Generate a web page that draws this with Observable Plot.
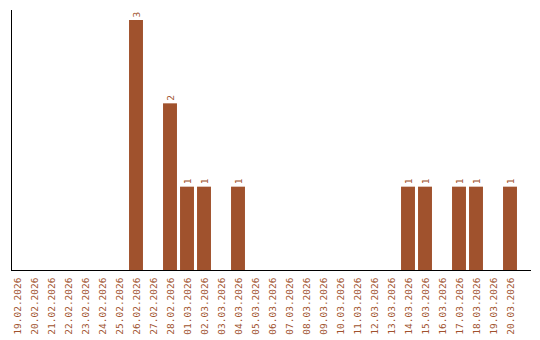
<!DOCTYPE html>
<html><head><meta charset="utf-8">
<script src="https://cdn.jsdelivr.net/npm/d3@7"></script>
<script src="https://cdn.jsdelivr.net/npm/@observablehq/plot@0.6"></script>
<style>body{margin:0;background:#fff}</style>
</head><body><div id="chart"></div>
<script>
const dates = ["19.02.2026","20.02.2026","21.02.2026","22.02.2026","23.02.2026","24.02.2026","25.02.2026","26.02.2026","27.02.2026","28.02.2026","01.03.2026","02.03.2026","03.03.2026","04.03.2026","05.03.2026","06.03.2026","07.03.2026","08.03.2026","09.03.2026","10.03.2026","11.03.2026","12.03.2026","13.03.2026","14.03.2026","15.03.2026","16.03.2026","17.03.2026","18.03.2026","19.03.2026","20.03.2026"];
const counts = [0,0,0,0,0,0,0,3,0,2,1,1,0,1,0,0,0,0,0,0,0,0,0,1,1,0,1,1,0,1];
const data = dates.map((d,i)=>({date:d, count:counts[i]}));
const nz = data.filter(d=>d.count>0);
const color = "#a0522d";
const chart = Plot.plot({
  width: 540, height: 340,
  marginLeft: 11, marginRight: 10, marginTop: 10, marginBottom: 70,
  style: {fontFamily: "'DejaVu Sans Mono', monospace", fontSize: "9.5px", background: "#fff"},
  x: {domain: dates, range: [8.5, 518.5], paddingInner: 0.18, paddingOuter: 0.09, round: false, label: null},
  y: {domain: [0, 3.12], axis: null},
  marks: [
    Plot.barY(nz, {x: "date", y: "count", fill: color}),
    Plot.text(nz, {x: "date", y: "count", text: d => String(d.count), rotate: -90, textAnchor: "start", dy: -3, fill: color, fontSize: 9.5}),
    Plot.axisX({tickSize: 0, tickPadding: 7, tickRotate: -90, fill: color, label: null}),
    Plot.frame({anchor: "left", stroke: "#000"}),
    Plot.frame({anchor: "bottom", stroke: "#000"})
  ]
});
document.getElementById("chart").appendChild(chart);
</script></body></html>
